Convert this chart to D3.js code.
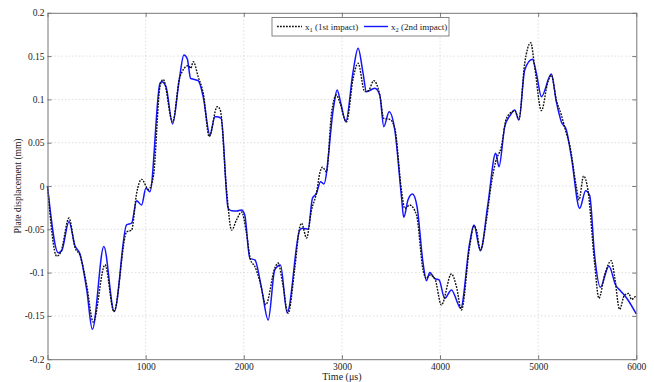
<!DOCTYPE html>
<html>
<head>
<meta charset="utf-8">
<script src="https://cdn.jsdelivr.net/npm/d3@7"></script>
<style>
  html, body { margin: 0; padding: 0; background: #fff; }
  svg { display: block; font-family: "Liberation Serif", "Times New Roman", serif; }
</style>
</head>
<body>
<svg id="chart" width="654" height="382"></svg>
<script>
// Plate displacement histories (time in µs, displacement in mm)
const timeX1 = [0, 94, 137, 219, 280, 331, 399, 466, 586, 677, 807, 857, 908, 959, 1030, 1080, 1146, 1179, 1275, 1349, 1434, 1460, 1485, 1536, 1587, 1648, 1729, 1760, 1825, 1876, 1927, 1978, 2028, 2069, 2113, 2164, 2225, 2316, 2350, 2400, 2452, 2520, 2571, 2589, 2640, 2690, 2741, 2775, 2802, 2843, 2894, 2945, 2971, 3047, 3114, 3165, 3233, 3270, 3325, 3386, 3427, 3488, 3539, 3607, 3641, 3691, 3760, 3827, 3862, 3895, 3946, 4014, 4116, 4167, 4218, 4302, 4346, 4371, 4411, 4473, 4523, 4567, 4625, 4676, 4737, 4761, 4804, 4863, 4924, 4964, 5033, 5100, 5134, 5185, 5236, 5287, 5321, 5389, 5416, 5463, 5507, 5575, 5619, 5677, 5745, 5779, 5830, 5880, 5925, 5949, 6000];
const valuesX1 = [0, -0.081, -0.076, -0.037, -0.071, -0.080, -0.114, -0.157, -0.091, -0.145, -0.053, -0.051, -0.0085, 0.0077, -0.004, 0.012, 0.1147, 0.123, 0.074, 0.126, 0.139, 0.136, 0.1435, 0.126, 0.107, 0.057, 0.0916, 0.088, -0.005, -0.051, -0.039, -0.030, -0.0546, -0.0854, -0.093, -0.110, -0.137, -0.095, -0.089, -0.115, -0.147, -0.095, -0.047, -0.043, -0.060, -0.028, -0.008, 0.015, 0.0216, 0.0165, 0.084, 0.105, 0.099, 0.074, 0.124, 0.1417, 0.109, 0.110, 0.1216, 0.105, 0.078, 0.077, 0.0666, -0.005, -0.026, -0.022, -0.0335, -0.097, -0.1066, -0.1028, -0.1066, -0.1374, -0.1016, -0.116, -0.1432, -0.070, -0.046, -0.0508, -0.0739, -0.039, 0.003, 0.028, 0.0454, 0.078, 0.0858, 0.087, 0.077, 0.1417, 0.1655, 0.138, 0.087, 0.1205, 0.128, 0.0993, 0.082, 0.0608, 0.0473, -0.001, -0.016, 0.0115, -0.0046, -0.089, -0.1297, -0.1028, -0.0862, -0.1047, -0.1424, -0.1259, -0.124, -0.131, -0.126];

const timeX2 = [0, 110, 145, 219, 280, 331, 400, 457, 574, 680, 806, 857, 908, 959, 1003, 1044, 1146, 1163, 1207, 1275, 1342, 1390, 1424, 1458, 1490, 1536, 1587, 1655, 1706, 1729, 1770, 1841, 1876, 1927, 1978, 2010, 2062, 2113, 2181, 2249, 2316, 2374, 2442, 2571, 2598, 2656, 2700, 2741, 2782, 2816, 2917, 2951, 2990, 3040, 3114, 3165, 3216, 3250, 3335, 3386, 3427, 3481, 3539, 3607, 3630, 3674, 3719, 3766, 3827, 3862, 3895, 3946, 3990, 4048, 4116, 4211, 4302, 4346, 4411, 4489, 4567, 4601, 4659, 4717, 4761, 4804, 4863, 4941, 4982, 5033, 5134, 5185, 5236, 5287, 5338, 5423, 5484, 5525, 5575, 5634, 5721, 5789, 5847, 5915, 6000];
const valuesX2 = [0, -0.077, -0.0747, -0.041, -0.069, -0.0785, -0.120, -0.1655, -0.070, -0.145, -0.045, -0.043, -0.017, -0.0219, -0.0027, -0.0066, 0.1186, 0.1204, 0.1147, 0.0716, 0.1224, 0.1513, 0.147, 0.1244, 0.1232, 0.1216, 0.1031, 0.0589, 0.080, 0.080, 0.078, -0.0258, -0.0285, -0.0289, -0.0277, -0.0335, -0.0835, -0.0854, -0.118, -0.1547, -0.097, -0.0912, -0.1463, -0.0508, -0.0489, -0.050, -0.0142, -0.0085, 0.005, 0.0023, 0.0924, 0.1109, 0.095, 0.0743, 0.132, 0.159, 0.130, 0.1089, 0.1128, 0.105, 0.0685, 0.0858, 0.0647, -0.0124, -0.0362, -0.016, -0.0092, -0.024, -0.089, -0.1093, -0.100, -0.107, -0.1085, -0.1297, -0.120, -0.1412, -0.066, -0.045, -0.0747, -0.020, 0.0377, 0.0223, 0.0685, 0.082, 0.0878, 0.0762, 0.134, 0.1463, 0.130, 0.1031, 0.1293, 0.0974, 0.0743, 0.0647, 0.0339, -0.0258, -0.0054, -0.011, -0.080, -0.117, -0.0924, -0.1143, -0.122, -0.1316, -0.1478];

const xTicks = [0, 1000, 2000, 3000, 4000, 5000, 6000];
const yTicks = [-0.2, -0.15, -0.1, -0.05, 0, 0.05, 0.1, 0.15, 0.2];
const yTickLabels = ["-0.2", "-0.15", "-0.1", "-0.05", "0", "0.05", "0.1", "0.15", "0.2"];

const seriesLabels = [["x", "1", " (1st impact)"], ["x", "2", " (2nd impact)"]];

const svg = d3.select("#chart");
const plotLeft = 47.5, plotRight = 636.3, plotTop = 12.8, plotBottom = 359.2;

const x = d3.scaleLinear().domain([0, 6000]).range([plotLeft, plotRight]);
const y = d3.scaleLinear().domain([-0.2, 0.2]).range([plotBottom, plotTop]);

// grid
const grid = svg.append("g");
grid.selectAll("line.gx").data(xTicks.slice(1, -1)).join("line")
  .attr("x1", d => x(d)).attr("x2", d => x(d))
  .attr("y1", plotTop).attr("y2", plotBottom)
  .attr("stroke", "#d6d6d6").attr("stroke-width", 0.8).attr("stroke-dasharray", "1.5,2");
grid.selectAll("line.gy").data(yTicks.slice(1, -1)).join("line")
  .attr("x1", plotLeft).attr("x2", plotRight)
  .attr("y1", d => y(d)).attr("y2", d => y(d))
  .attr("stroke", "#d6d6d6").attr("stroke-width", 0.8).attr("stroke-dasharray", "1.5,2");

// curves
const line = d3.line().curve(d3.curveMonotoneX).x(d => x(d[0])).y(d => y(d[1]));
const dataX1 = timeX1.map((t, i) => [t, valuesX1[i]]);
const dataX2 = timeX2.map((t, i) => [t, valuesX2[i]]);

const plot = svg.append("g");
plot.append("path").datum(dataX2).attr("d", line)
  .attr("fill", "none").attr("stroke", "#1414ff").attr("stroke-width", 1.5);
plot.append("path").datum(dataX1).attr("d", line)
  .attr("fill", "none").attr("stroke", "#111").attr("stroke-width", 1.4)
  .attr("stroke-dasharray", "1.8,1.2");

// axes (box with inward ticks)
const axisColor = "#777";
const axL = svg.append("g").attr("transform", `translate(${plotLeft},0)`)
  .call(d3.axisLeft(y).tickValues(yTicks).tickSizeInner(-4).tickSizeOuter(0)
    .tickPadding(3).tickFormat((d, i) => yTickLabels[i]));
const axR = svg.append("g").attr("transform", `translate(${plotRight},0)`)
  .call(d3.axisRight(y).tickValues(yTicks).tickSizeInner(-4).tickSizeOuter(0).tickFormat(""));
const axB = svg.append("g").attr("transform", `translate(0,${plotBottom})`)
  .call(d3.axisBottom(x).tickValues(xTicks).tickSizeInner(-4).tickSizeOuter(0)
    .tickPadding(4).tickFormat(d3.format("d")));
const axT = svg.append("g").attr("transform", `translate(0,${plotTop})`)
  .call(d3.axisTop(x).tickValues(xTicks).tickSizeInner(-4).tickSizeOuter(0).tickFormat(""));
[axL, axR, axB, axT].forEach(a => {
  a.select(".domain").attr("stroke", axisColor).attr("stroke-width", 1);
  a.selectAll(".tick line").attr("stroke", axisColor);
  a.selectAll("text").attr("fill", "#222").style("font-family", "'Liberation Serif', serif").style("font-size", "9.5px");
});

// axis titles
svg.append("text").attr("x", (plotLeft + plotRight) / 2).attr("y", 380)
  .attr("text-anchor", "middle").attr("font-size", 10).attr("fill", "#222")
  .text("Time (μs)");
svg.append("text").attr("transform", `translate(21,${y(0)}) rotate(-90)`)
  .attr("text-anchor", "middle").attr("font-size", 9.5).attr("fill", "#222")
  .text("Plate displacement (mm)");

// legend
const lg = svg.append("g");
lg.append("rect").attr("x", 272).attr("y", 17.5).attr("width", 177).attr("height", 18.5)
  .attr("fill", "#fff").attr("stroke", "#666").attr("stroke-width", 0.8);
const legendItems = [
  { x0: 277, x1: 302, tx: 305, color: "#111", dash: "1.8,1.2", label: seriesLabels[0] },
  { x0: 364, x1: 388, tx: 391, color: "#1414ff", dash: null, label: seriesLabels[1] }
];
legendItems.forEach(it => {
  const l = lg.append("line").attr("x1", it.x0).attr("x2", it.x1).attr("y1", 26.5).attr("y2", 26.5)
    .attr("stroke", it.color).attr("stroke-width", 1.4);
  if (it.dash) l.attr("stroke-dasharray", it.dash);
  const t = lg.append("text").attr("x", it.tx).attr("y", 29.5).attr("font-size", 9).attr("fill", "#222");
  t.append("tspan").text(it.label[0]);
  t.append("tspan").attr("dy", 2.5).attr("font-size", 6.5).text(it.label[1]);
  t.append("tspan").attr("dy", -2.5).text(it.label[2]);
});
</script>
</body>
</html>
